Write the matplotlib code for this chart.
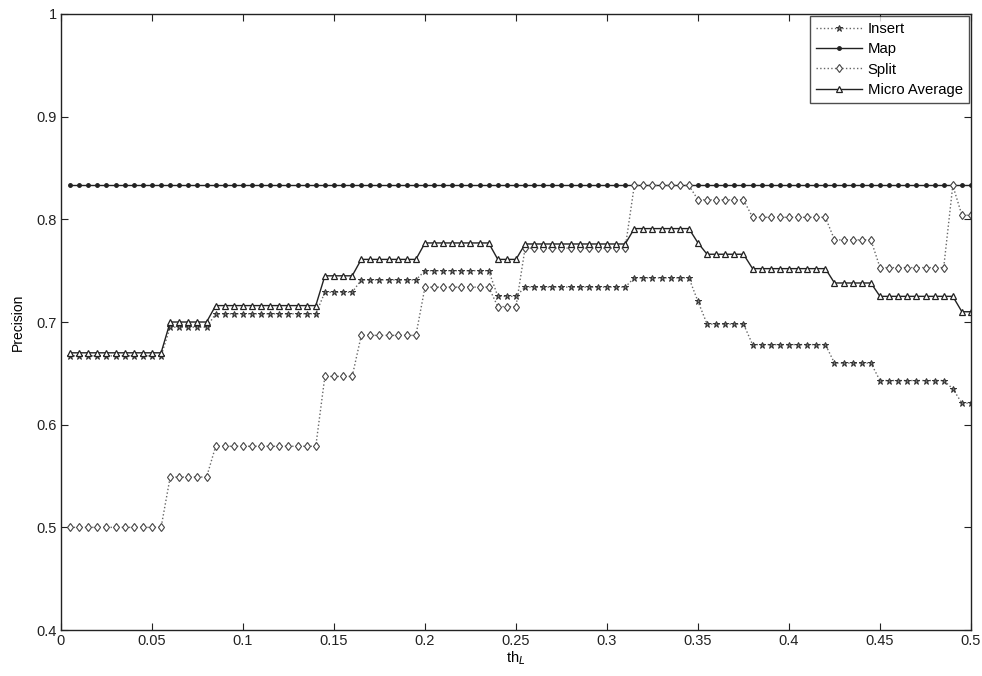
import numpy as np
import matplotlib
matplotlib.use('Agg')
import matplotlib.pyplot as plt

plt.rcParams['font.family'] = ['Liberation Sans', 'DejaVu Sans']

# threshold grid (100 steps of 0.005)
th_l = np.linspace(0.005, 0.5, 100)

insert = [
    0.667, 0.667, 0.667, 0.667, 0.667, 0.667, 0.667, 0.667, 0.667, 0.667,
    0.667, 0.695, 0.695, 0.695, 0.695, 0.695, 0.708, 0.708, 0.708, 0.708,
    0.708, 0.708, 0.708, 0.708, 0.708, 0.708, 0.708, 0.708, 0.729, 0.729,
    0.729, 0.729, 0.741, 0.741, 0.741, 0.741, 0.741, 0.741, 0.741, 0.750,
    0.750, 0.750, 0.750, 0.750, 0.750, 0.750, 0.750, 0.725, 0.725, 0.725,
    0.734, 0.734, 0.734, 0.734, 0.734, 0.734, 0.734, 0.734, 0.734, 0.734,
    0.734, 0.734, 0.743, 0.743, 0.743, 0.743, 0.743, 0.743, 0.743, 0.720,
    0.698, 0.698, 0.698, 0.698, 0.698, 0.678, 0.678, 0.678, 0.678, 0.678,
    0.678, 0.678, 0.678, 0.678, 0.660, 0.660, 0.660, 0.660, 0.660, 0.643,
    0.643, 0.643, 0.643, 0.643, 0.643, 0.643, 0.643, 0.635, 0.621, 0.621,
]

map_prec = [0.8333] * 100

split = [
    0.500, 0.500, 0.500, 0.500, 0.500, 0.500, 0.500, 0.500, 0.500, 0.500,
    0.500, 0.549, 0.549, 0.549, 0.549, 0.549, 0.579, 0.579, 0.579, 0.579,
    0.579, 0.579, 0.579, 0.579, 0.579, 0.579, 0.579, 0.579, 0.647, 0.647,
    0.647, 0.647, 0.687, 0.687, 0.687, 0.687, 0.687, 0.687, 0.687, 0.734,
    0.734, 0.734, 0.734, 0.734, 0.734, 0.734, 0.734, 0.715, 0.715, 0.715,
    0.772, 0.772, 0.772, 0.772, 0.772, 0.772, 0.772, 0.772, 0.772, 0.772,
    0.772, 0.772, 0.833, 0.833, 0.833, 0.833, 0.833, 0.833, 0.833, 0.819,
    0.819, 0.819, 0.819, 0.819, 0.819, 0.802, 0.802, 0.802, 0.802, 0.802,
    0.802, 0.802, 0.802, 0.802, 0.780, 0.780, 0.780, 0.780, 0.780, 0.753,
    0.753, 0.753, 0.753, 0.753, 0.753, 0.753, 0.753, 0.833, 0.804, 0.804,
]

micro_avg = [
    0.670, 0.670, 0.670, 0.670, 0.670, 0.670, 0.670, 0.670, 0.670, 0.670,
    0.670, 0.700, 0.700, 0.700, 0.700, 0.700, 0.716, 0.716, 0.716, 0.716,
    0.716, 0.716, 0.716, 0.716, 0.716, 0.716, 0.716, 0.716, 0.745, 0.745,
    0.745, 0.745, 0.761, 0.761, 0.761, 0.761, 0.761, 0.761, 0.761, 0.777,
    0.777, 0.777, 0.777, 0.777, 0.777, 0.777, 0.777, 0.761, 0.761, 0.761,
    0.776, 0.776, 0.776, 0.776, 0.776, 0.776, 0.776, 0.776, 0.776, 0.776,
    0.776, 0.776, 0.791, 0.791, 0.791, 0.791, 0.791, 0.791, 0.791, 0.777,
    0.766, 0.766, 0.766, 0.766, 0.766, 0.752, 0.752, 0.752, 0.752, 0.752,
    0.752, 0.752, 0.752, 0.752, 0.738, 0.738, 0.738, 0.738, 0.738, 0.725,
    0.725, 0.725, 0.725, 0.725, 0.725, 0.725, 0.725, 0.725, 0.710, 0.710,
]

x_ticks = [0, 0.05, 0.1, 0.15, 0.2, 0.25, 0.3, 0.35, 0.4, 0.45, 0.5]
x_tick_labels = ['0', '0.05', '0.1', '0.15', '0.2', '0.25', '0.3', '0.35', '0.4', '0.45', '0.5']
y_ticks = [0.4, 0.5, 0.6, 0.7, 0.8, 0.9, 1.0]
y_tick_labels = ['0.4', '0.5', '0.6', '0.7', '0.8', '0.9', '1']

fig = plt.figure(figsize=(9.82, 6.76), dpi=100)
ax = fig.add_axes([0.0621, 0.068, 0.9267, 0.9113])

ax.plot(th_l, insert, linestyle=':', color='#666666', linewidth=1,
        marker='*', markersize=5, markeredgecolor='#333333',
        markerfacecolor='#777777', markeredgewidth=0.7, label='Insert')
ax.plot(th_l, map_prec, linestyle='-', color='#222222', linewidth=1,
        marker='.', markersize=5, markeredgecolor='#222222',
        markerfacecolor='#222222', label='Map')
ax.plot(th_l, split, linestyle=':', color='#666666', linewidth=1,
        marker='d', markersize=4.5, markeredgecolor='#444444',
        markerfacecolor='white', markeredgewidth=0.8, label='Split')
ax.plot(th_l, micro_avg, linestyle='-', color='#222222', linewidth=1,
        marker='^', markersize=4.5, markeredgecolor='#222222',
        markerfacecolor='white', markeredgewidth=0.9, label='Micro Average')

ax.set_xlim(0, 0.5)
ax.set_ylim(0.4, 1.0)
ax.set_xticks(x_ticks)
ax.set_xticklabels(x_tick_labels)
ax.set_yticks(y_ticks)
ax.set_yticklabels(y_tick_labels)
ax.tick_params(direction='in', length=5, top=True, right=True, labelsize=10.5,
               colors='#222222', pad=3)
for spine in ax.spines.values():
    spine.set_color('#222222')
    spine.set_linewidth(1)

ax.set_xlabel('th$_L$', fontsize=10.5, labelpad=1)
ax.set_ylabel('Precision', fontsize=10, labelpad=8)

leg = ax.legend(loc='upper right', fontsize=10.7, handlelength=3.1,
                frameon=True, fancybox=False, borderaxespad=0.15,
                borderpad=0.4, labelspacing=0.42, handletextpad=0.4)
leg.get_frame().set_edgecolor('#222222')
leg.get_frame().set_linewidth(1)

fig.savefig('out.png', dpi=100)
